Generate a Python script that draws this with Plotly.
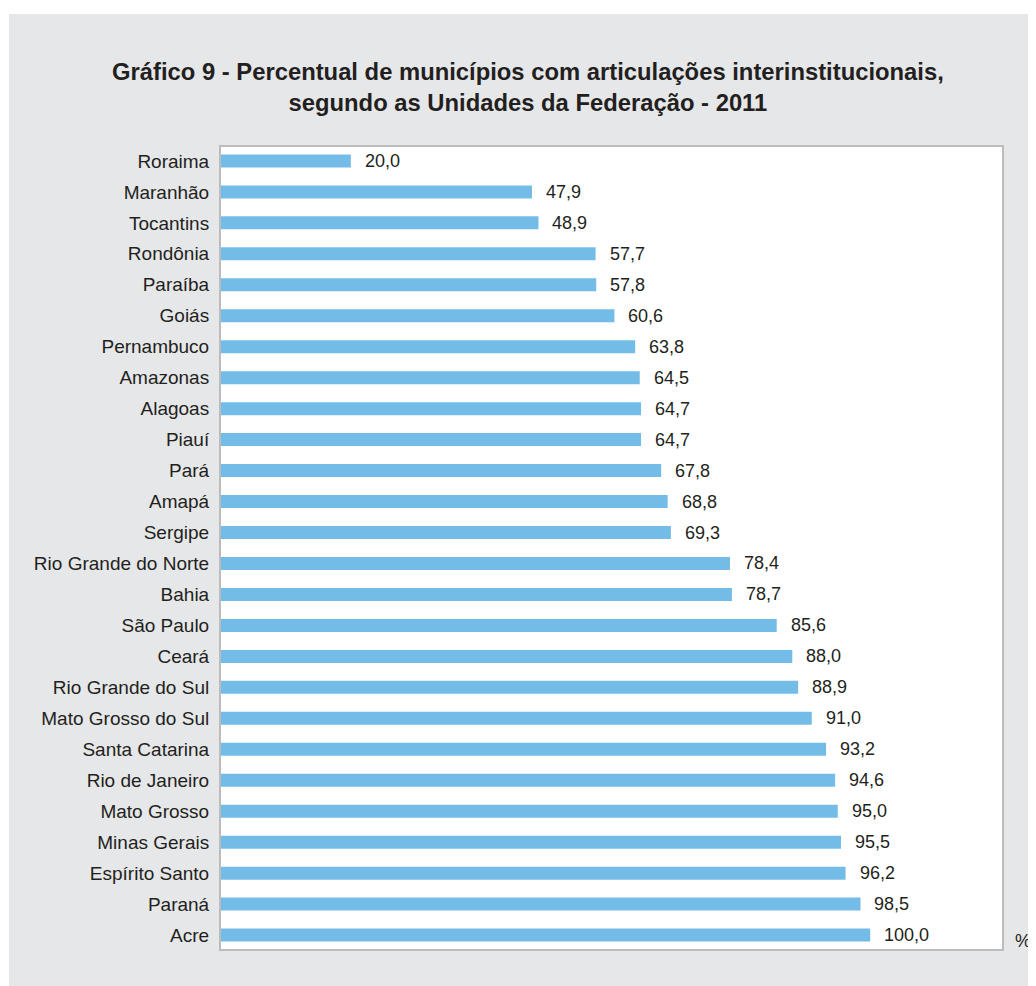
import plotly.graph_objects as go

# Unidades da Federação, top to bottom as in the chart
states = [
    "Roraima", "Maranhão", "Tocantins", "Rondônia", "Paraíba", "Goiás",
    "Pernambuco", "Amazonas", "Alagoas", "Piauí", "Pará", "Amapá", "Sergipe",
    "Rio Grande do Norte", "Bahia", "São Paulo", "Ceará", "Rio Grande do Sul",
    "Mato Grosso do Sul", "Santa Catarina", "Rio de Janeiro", "Mato Grosso",
    "Minas Gerais", "Espírito Santo", "Paraná", "Acre",
]
percent = [
    20.0, 47.9, 48.9, 57.7, 57.8, 60.6,
    63.8, 64.5, 64.7, 64.7, 67.8, 68.8, 69.3,
    78.4, 78.7, 85.6, 88.0, 88.9,
    91.0, 93.2, 94.6, 95.0,
    95.5, 96.2, 98.5, 100.0,
]

font_family = "Liberation Sans, Arial, sans-serif"
text_color = "#231f20"
bar_color = "#74bce8"
panel_gray = "#e6e7e9"

fig = go.Figure(
    go.Bar(
        x=percent,
        y=states,
        orientation="h",
        marker=dict(color=bar_color, line=dict(width=0)),
        width=0.42,
        hoverinfo="x+y",
    )
)

# value labels with comma decimal separator
for s, v in zip(states, percent):
    fig.add_annotation(
        x=v, y=s, xref="x", yref="y",
        text=f"{v:.1f}".replace(".", ","),
        showarrow=False, xanchor="left", yanchor="middle",
        xshift=12,
        font=dict(size=18, color=text_color, family=font_family),
    )

# title
fig.add_annotation(
    x=0.393, y=1.0754, xref="paper", yref="paper",
    text="<b>Gráfico 9 - Percentual de municípios com articulações interinstitucionais,</b><br>"
         "<b>segundo as Unidades da Federação - 2011</b>",
    showarrow=False, xanchor="center", yanchor="middle", align="center",
    font=dict(size=23.8, color=text_color, family=font_family),
)

# unit marker
fig.add_annotation(
    x=1.027, y=0.01, xref="paper", yref="paper",
    text="%", showarrow=False, xanchor="center", yanchor="middle",
    font=dict(size=18, color=text_color, family=font_family),
)

# white page strip left/top of the gray panel
fig.add_shape(type="rect", xref="paper", yref="paper",
              x0=-0.3, x1=-0.2714, y0=-0.1, y1=1.25,
              fillcolor="white", line=dict(width=0), layer="above")
fig.add_shape(type="rect", xref="paper", yref="paper",
              x0=-0.3, x1=1.1, y0=1.1658, y1=1.25,
              fillcolor="white", line=dict(width=0), layer="above")

fig.update_layout(
    width=1028,
    height=978,
    margin=dict(l=213, r=34, t=139, b=37),
    paper_bgcolor=panel_gray,
    plot_bgcolor="white",
    showlegend=False,
    font=dict(family=font_family, size=18, color=text_color),
    xaxis=dict(
        range=[0, 120.3],
        showgrid=False, zeroline=False, showticklabels=False, ticks="",
        showline=True, mirror=True, linecolor="#bcbcbc", linewidth=2,
        fixedrange=True,
    ),
    yaxis=dict(
        type="category",
        range=[25.45, -0.45],
        showgrid=False, zeroline=False, ticks="",
        ticklabelstandoff=6,
        tickfont=dict(size=19, color=text_color, family=font_family),
        showline=True, mirror=True, linecolor="#bcbcbc", linewidth=2,
        fixedrange=True,
    ),
)

fig.write_html("out.html")
